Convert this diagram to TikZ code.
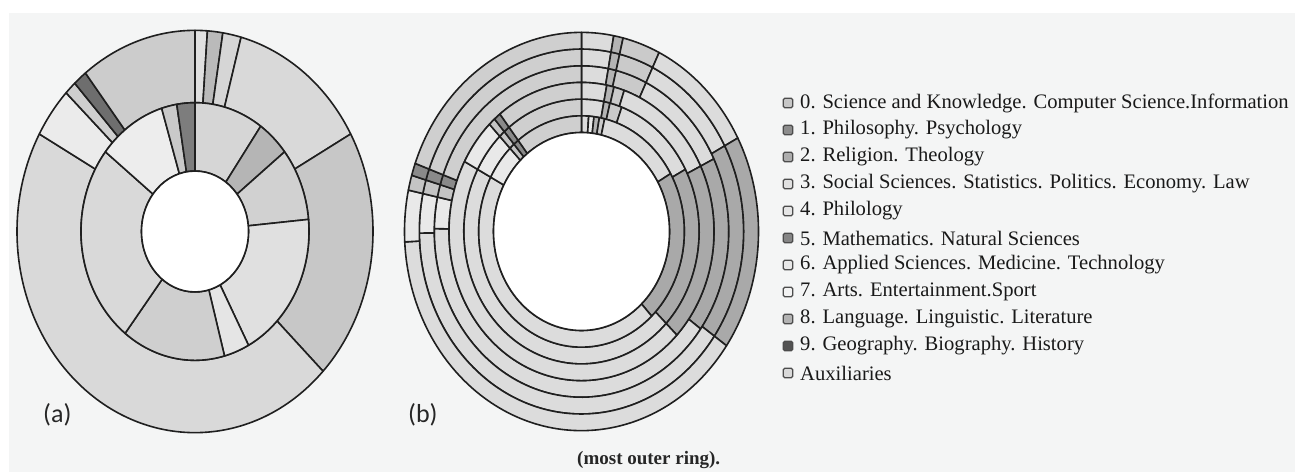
\documentclass[tikz,border=0pt]{standalone}
\usepackage{fontspec}
\setmainfont{Liberation Serif}
\newfontfamily\labelfont{Carlito}
\definecolor{panel}{HTML}{F4F5F5}
\definecolor{cL}{HTML}{DCDCDC}
\definecolor{cVL}{HTML}{E9E9E9}
\definecolor{cML}{HTML}{CFCFCF}
\definecolor{cM}{HTML}{B4B4B4}
\definecolor{cMM}{HTML}{CACACA}
\definecolor{cD}{HTML}{A9A9A9}
\definecolor{cDD}{HTML}{8A8A8A}
\definecolor{cS}{HTML}{C4C4C4}
\newcommand{\annsec}[5]{\path[seg, fill=#1] (#4:#2) arc[start angle=#4, end angle=#5, radius=#2] -- (#5:#3) arc[start angle=#5, end angle=#4, radius=#3] -- cycle;}
\begin{document}
\begin{tikzpicture}[x=1pt,y=1pt,
  seg/.style={draw=black!88, line width=1.6pt, line join=round},
  legsq/.style={draw=black!70, line width=1.1pt, rounded corners=1.5pt, minimum width=9.5pt, minimum height=9.5pt, inner sep=0pt},
  legtxt/.style={anchor=west, font=\fontsize{20.6}{22}\selectfont, text=black!90, inner sep=0pt},
  panlabel/.style={anchor=west, font=\labelfont\fontsize{26}{28}\selectfont, text=black!85, inner sep=0pt}]
\fill[white] (0,0) rectangle (1303,472);
\fill[panel] (9,0) rectangle (1295,459);
\useasboundingbox (0,0) rectangle (1303,472);

% ---------- chart (a) ----------
\begin{scope}[shift={(195,240.5)}, yscale=1.13]
  % outer ring
  \annsec{black!12}{114}{178}{86}{90}
  \annsec{black!27}{114}{178}{81}{86}
  \annsec{black!16}{114}{178}{75}{81}
  \annsec{black!15}{114}{178}{29}{75}
  \annsec{black!22}{114}{178}{-44}{29}
  \annsec{black!15}{114}{178}{151}{316}
  \annsec{black!8}{114}{178}{136.4}{151}
  \annsec{black!19}{114}{178}{132.5}{136.4}
  \annsec{black!57}{114}{178}{128}{132.5}
  \annsec{black!20}{114}{178}{90}{128}
  % inner ring
  \annsec{black!16}{53.5}{114}{54.8}{90}
  \annsec{black!29}{53.5}{114}{38.2}{54.8}
  \annsec{black!18}{53.5}{114}{5.4}{38.2}
  \annsec{black!12}{53.5}{114}{-62}{5.4}
  \annsec{black!10}{53.5}{114}{-75}{-62}
  \annsec{black!19}{53.5}{114}{-127.8}{-75}
  \annsec{black!15}{53.5}{114}{141.8}{232.2}
  \annsec{black!7}{53.5}{114}{107}{141.8}
  \annsec{black!21}{53.5}{114}{99.2}{107}
  \annsec{black!51}{53.5}{114}{90}{99.2}
  \path[seg, fill=white] (0,0) circle[radius=53.5];
\end{scope}

% ---------- chart (b) ----------
\begin{scope}[shift={(581.5,240.5)}, yscale=1.125]
  % rings 4-6: inner radius, outer radius, light start, dark start, dark end
  \foreach \ri/\ro/\L/\ds/\de in {132.5/147.3/179/26/-36, 147.3/162.2/180.5/28/-35, 162.2/177/183/28/-35}{
    \annsec{cL}{\ri}{\ro}{79.5}{90}
    \annsec{cM}{\ri}{\ro}{76.4}{79.5}
    \annsec{cMM}{\ri}{\ro}{64}{76.4}
    \annsec{cL}{\ri}{\ro}{\ds}{64}
    \annsec{cD}{\ri}{\ro}{\de}{\ds}
    \pgfmathsetmacro{\dend}{360+\de}
    \annsec{cL}{\ri}{\ro}{\L}{\dend}
    \annsec{cVL}{\ri}{\ro}{168}{\L}
    \annsec{cS}{\ri}{\ro}{163.6}{168}
    \annsec{cDD}{\ri}{\ro}{160}{163.6}
    \annsec{cML}{\ri}{\ro}{90}{160}
  }
  % rings 2-3
  \foreach \ri/\ro/\a/\b/\c/\ds/\de in {102.8/117.7/79/76/70/28/-44, 117.7/132.5/79/75.8/71.2/26/-44}{
    \annsec{cL}{\ri}{\ro}{\a}{90}
    \annsec{cM}{\ri}{\ro}{\b}{\a}
    \annsec{cMM}{\ri}{\ro}{\c}{\b}
    \annsec{cL}{\ri}{\ro}{\ds}{\c}
    \annsec{cD}{\ri}{\ro}{\de}{\ds}
    \pgfmathsetmacro{\dend}{360+\de}
    \annsec{cL}{\ri}{\ro}{152}{\dend}
    \annsec{cVL}{\ri}{\ro}{134}{152}
    \annsec{cS}{\ri}{\ro}{131}{134}
    \annsec{cDD}{\ri}{\ro}{128}{131}
    \annsec{cML}{\ri}{\ro}{90}{128}
  }
  % ring 1
  \annsec{cL}{88}{102.8}{86}{90}
  \annsec{cVL}{88}{102.8}{83}{86}
  \annsec{cM}{88}{102.8}{80}{83}
  \annsec{cMM}{88}{102.8}{77}{80}
  \annsec{cL}{88}{102.8}{30}{77}
  \annsec{cD}{88}{102.8}{-47}{30}
  \annsec{cL}{88}{102.8}{152}{313}
  \annsec{cVL}{88}{102.8}{134}{152}
  \annsec{cS}{88}{102.8}{131}{134}
  \annsec{cDD}{88}{102.8}{128}{131}
  \annsec{cML}{88}{102.8}{90}{128}
  \path[seg, fill=white] (0,0) circle[radius=88];
\end{scope}

% ---------- labels ----------
\node[panlabel] (la) at (43,57) {(a)};
\node[panlabel] (lb) at (408,57) {(b)};
\node[anchor=west, font=\bfseries\fontsize{19}{20}\selectfont, text=black!85, inner sep=0pt] (cap) at (577,12) {(most outer ring).};

% ---------- legend ----------
\foreach \i/\col/\txt in {
  0/black!22/{0. Science and Knowledge. Computer Science.Information},
  1/black!45/{1. Philosophy. Psychology},
  2/black!32/{2. Religion. Theology},
  3/black!12/{3. Social Sciences. Statistics. Politics. Economy. Law},
  4/black!10/{4. Philology},
  5/black!48/{5. Mathematics. Natural Sciences},
  6/black!9/{6. Applied Sciences. Medicine. Technology},
  7/black!5/{7. Arts. Entertainment.Sport},
  8/black!30/{8. Language. Linguistic. Literature},
  9/black!68/{9. Geography. Biography. History},
  10/black!15/{Auxiliaries}}{
  \node[legsq, fill=\col] (sq\i) at (788,{369-27*\i}) {};
  \node[legtxt] (tx\i) at (800,{369-27*\i}) {\txt};
}
\end{tikzpicture}
\end{document}
